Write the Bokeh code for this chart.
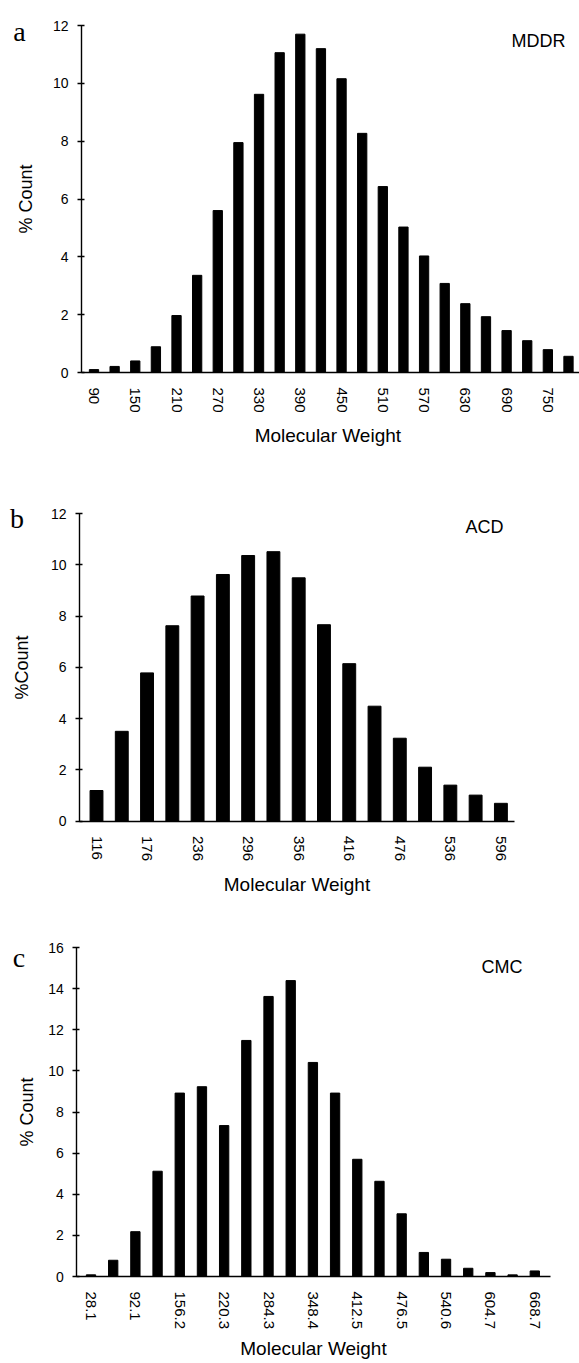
from bokeh.plotting import figure
from bokeh.models import Range1d, Label, FixedTicker
from bokeh.layouts import column
from bokeh.embed import file_html
from bokeh.resources import INLINE

SANS = "Liberation Sans"
SERIF = "Liberation Serif"
W = 579

# ---------------- data ----------------
mddr_mw = ["90", "120", "150", "180", "210", "240", "270", "300", "330", "360",
           "390", "420", "450", "480", "510", "540", "570", "600", "630", "660",
           "690", "720", "750", "780"]
mddr_pct = [0.10, 0.21, 0.40, 0.89, 1.97, 3.36, 5.60, 7.95, 9.62, 11.06,
            11.70, 11.20, 10.16, 8.27, 6.43, 5.03, 4.03, 3.08, 2.38, 1.93,
            1.45, 1.10, 0.79, 0.56]
mddr_shown = ["90", "150", "210", "270", "330", "390", "450", "510", "570",
              "630", "690", "750"]

acd_mw = ["116", "146", "176", "206", "236", "266", "296", "326", "356", "386",
          "416", "446", "476", "506", "536", "566", "596"]
acd_pct = [1.19, 3.50, 5.78, 7.62, 8.78, 9.62, 10.36, 10.51, 9.49, 7.66,
           6.14, 4.48, 3.23, 2.10, 1.40, 1.01, 0.69]
acd_shown = ["116", "176", "236", "296", "356", "416", "476", "536", "596"]

cmc_mw = ["28.1", "60.1", "92.1", "124.2", "156.2", "188.2", "220.3", "252.3",
          "284.3", "316.4", "348.4", "380.4", "412.5", "444.5", "476.5", "508.6",
          "540.6", "572.6", "604.7", "636.7", "668.7"]
cmc_pct = [0.08, 0.79, 2.18, 5.12, 8.92, 9.23, 7.34, 11.48, 13.62, 14.39,
           10.41, 8.92, 5.70, 4.63, 3.05, 1.17, 0.84, 0.40, 0.19, 0.08, 0.27]
cmc_shown = ["28.1", "92.1", "156.2", "220.3", "284.3", "348.4", "412.5",
             "476.5", "540.6", "604.7", "668.7"]


def make_panel(mw, pct, shown, ymax, ystep, fig_top, fig_h,
               px_first, px_step, px_yaxis, px_xend, py_top, py_zero,
               bar_w, ylabel, xlabel, ylab_standoff, xlab_standoff,
               letter, letter_px, name, name_px):
    # layout helpers: page pixel -> data coordinate
    def dx(px):
        return (px - px_first) / px_step

    ppu = (py_zero - py_top) / ymax

    def dy(py):
        return (py_zero - py) / ppu

    x_range = Range1d(dx(0), dx(W))
    y_range = Range1d(dy(fig_top + fig_h), dy(fig_top))
    p = figure(x_range=x_range, y_range=y_range, width=W, height=fig_h,
               output_backend="svg", toolbar_location=None,
               min_border_left=0, min_border_right=0,
               min_border_top=0, min_border_bottom=0)
    idx = list(range(len(mw)))
    p.vbar(x=idx, top=pct, width=bar_w, fill_color="black", line_color="black")
    p.xgrid.visible = False
    p.ygrid.visible = False
    p.outline_line_color = None
    p.background_fill_color = "white"
    p.border_fill_color = "white"

    # y axis
    ya = p.yaxis[0]
    ya.fixed_location = dx(px_yaxis)
    ya.bounds = (0, ymax)
    ya.ticker = FixedTicker(ticks=list(range(0, ymax + 1, ystep)))
    ya.minor_tick_line_color = None
    ya.major_tick_in = 3
    ya.major_tick_out = 4
    ya.axis_line_width = 1.4
    ya.major_tick_line_width = 1.4
    ya.axis_line_color = "black"
    ya.major_tick_line_color = "black"
    ya.major_label_text_font = SANS
    ya.major_label_text_font_size = "14px"
    ya.major_label_text_color = "black"
    ya.major_label_standoff = 9
    ya.axis_label = ylabel
    ya.axis_label_text_font = SANS
    ya.axis_label_text_font_size = "18px"
    ya.axis_label_text_font_style = "normal"
    ya.axis_label_text_color = "black"
    ya.axis_label_standoff = ylab_standoff

    # x axis
    xa = p.xaxis[0]
    xa.fixed_location = 0
    xa.bounds = (dx(px_yaxis), dx(px_xend))
    xa.ticker = FixedTicker(ticks=[i for i, m in zip(idx, mw) if m in shown])
    xa.major_label_overrides = {i: m for i, m in zip(idx, mw)}
    xa.major_label_orientation = "vertical"
    xa.major_tick_line_color = None
    xa.minor_tick_line_color = None
    xa.axis_line_width = 1.4
    xa.axis_line_color = "black"
    xa.major_label_text_font = SANS
    xa.major_label_text_font_size = "15px"
    xa.major_label_text_color = "black"
    xa.major_label_standoff = 9
    xa.axis_label = xlabel
    xa.axis_label_text_font = SANS
    xa.axis_label_text_font_size = "19px"
    xa.axis_label_text_font_style = "normal"
    xa.axis_label_text_color = "black"
    xa.axis_label_standoff = xlab_standoff

    p.add_layout(Label(x=dx(letter_px[0]), y=dy(letter_px[1]), text=letter,
                       text_font=SERIF, text_font_size="28px",
                       text_align="center", text_baseline="alphabetic",
                       text_color="black"))
    p.add_layout(Label(x=dx(name_px[0]), y=dy(name_px[1]), text=name,
                       text_font=SANS, text_font_size="18px",
                       text_align="right", text_baseline="alphabetic",
                       text_color="black"))
    return p


pa = make_panel(mddr_mw, mddr_pct, mddr_shown, 12, 2, 0, 452,
                93.5, 20.63, 81, 579, 25, 372, 0.45,
                "% Count", "Molecular  Weight", 14, 9,
                "a", (19, 31), "MDDR", (565, 40))
pb = make_panel(acd_mw, acd_pct, acd_shown, 12, 2, 452, 448,
                96, 25.275, 79, 514, 513, 820.5, 0.51,
                "%Count", "Molecular Weight", 16, 9,
                "b", (16.5, 518), "ACD", (503, 526))
pc = make_panel(cmc_mw, cmc_pct, cmc_shown, 16, 2, 900, 463,
                90.5, 22.19, 76.4, 550, 947, 1276, 0.42,
                "% Count", "Molecular Weight", 8, 6,
                "c", (18.5, 957), "CMC", (522, 966))

layout = column(pa, pb, pc)
open("out.html", "w").write(file_html(layout, INLINE))
